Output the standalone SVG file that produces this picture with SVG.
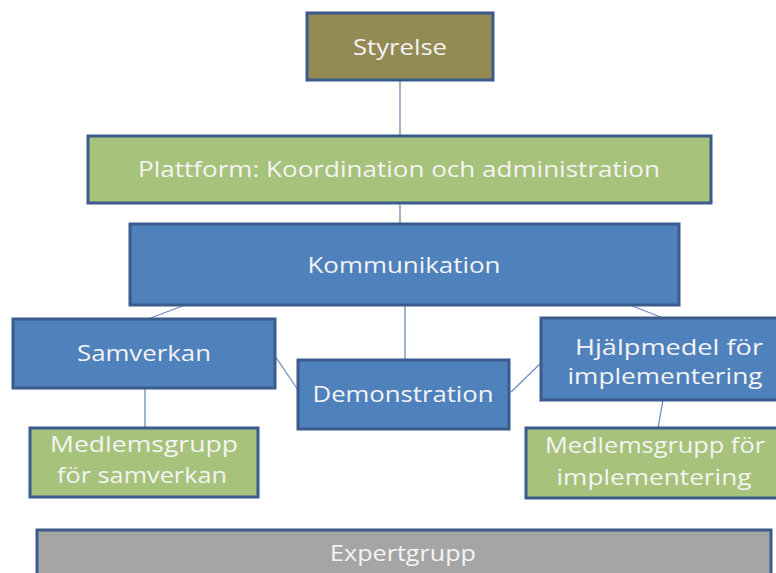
<svg xmlns="http://www.w3.org/2000/svg" width="776" height="573" viewBox="0 0 776 573">
<style>
.box{stroke:#3b5b8c;stroke-width:3}
.olive{fill:#948a54}
.green{fill:#a6c27b}
.blue{fill:#4f81bd}
.gray{fill:#a5a5a5}
text{font-family:"Open Sans","Liberation Sans",sans-serif;font-size:21px;fill:#f4f4f4;text-anchor:middle}
.conn line{stroke:#6e8ebf;stroke-width:1.3}
</style>
<rect width="776" height="573" fill="#ffffff"/>
<g class="conn">
<line x1="400" y1="80" x2="400" y2="136"/>
<line x1="400" y1="203" x2="400" y2="224"/>
<line x1="185" y1="305" x2="148" y2="319"/>
<line x1="405" y1="305" x2="405" y2="360"/>
<line x1="630" y1="305" x2="663" y2="318"/>
<line x1="275" y1="356" x2="298" y2="390"/>
<line x1="511" y1="392" x2="542" y2="362"/>
<line x1="145" y1="388" x2="145" y2="428"/>
<line x1="663" y1="400" x2="658" y2="428"/>
</g>
<g id="styrelse"><rect class="box olive" x="307" y="13" width="186" height="67"/><text x="400" y="55" textLength="94" lengthAdjust="spacingAndGlyphs">Styrelse</text></g>
<g id="plattform"><rect class="box green" x="88" y="136" width="623" height="67"/><text x="399" y="177" textLength="522" lengthAdjust="spacingAndGlyphs">Plattform: Koordination och administration</text></g>
<g id="kommunikation"><rect class="box blue" x="130" y="224" width="549" height="81"/><text x="404" y="273" textLength="193" lengthAdjust="spacingAndGlyphs">Kommunikation</text></g>
<g id="samverkan"><rect class="box blue" x="13" y="319" width="262" height="69"/><text x="144" y="361" textLength="134" lengthAdjust="spacingAndGlyphs">Samverkan</text></g>
<g id="demonstration"><rect class="box blue" x="298" y="360" width="211" height="69"/><text x="403" y="402" textLength="181" lengthAdjust="spacingAndGlyphs">Demonstration</text></g>
<g id="hjalpmedel"><rect class="box blue" x="541" y="318" width="245" height="82"/><text x="669" y="355" textLength="188" lengthAdjust="spacingAndGlyphs">Hjälpmedel för</text><text x="665" y="384" textLength="195" lengthAdjust="spacingAndGlyphs">implementering</text></g>
<g id="medlem-samverkan"><rect class="box green" x="30" y="428" width="228" height="69"/><text x="144" y="452" textLength="188" lengthAdjust="spacingAndGlyphs">Medlemsgrupp</text><text x="142" y="483" textLength="170" lengthAdjust="spacingAndGlyphs">för samverkan</text></g>
<g id="medlem-implementering"><rect class="box green" x="526" y="428" width="260" height="70"/><text x="655" y="453" textLength="220" lengthAdjust="spacingAndGlyphs">Medlemsgrupp för</text><text x="654" y="485" textLength="195" lengthAdjust="spacingAndGlyphs">implementering</text></g>
<g id="expertgrupp"><rect class="box gray" x="37" y="530" width="734" height="60"/><text x="403" y="561" textLength="146" lengthAdjust="spacingAndGlyphs">Expertgrupp</text></g>
</svg>
